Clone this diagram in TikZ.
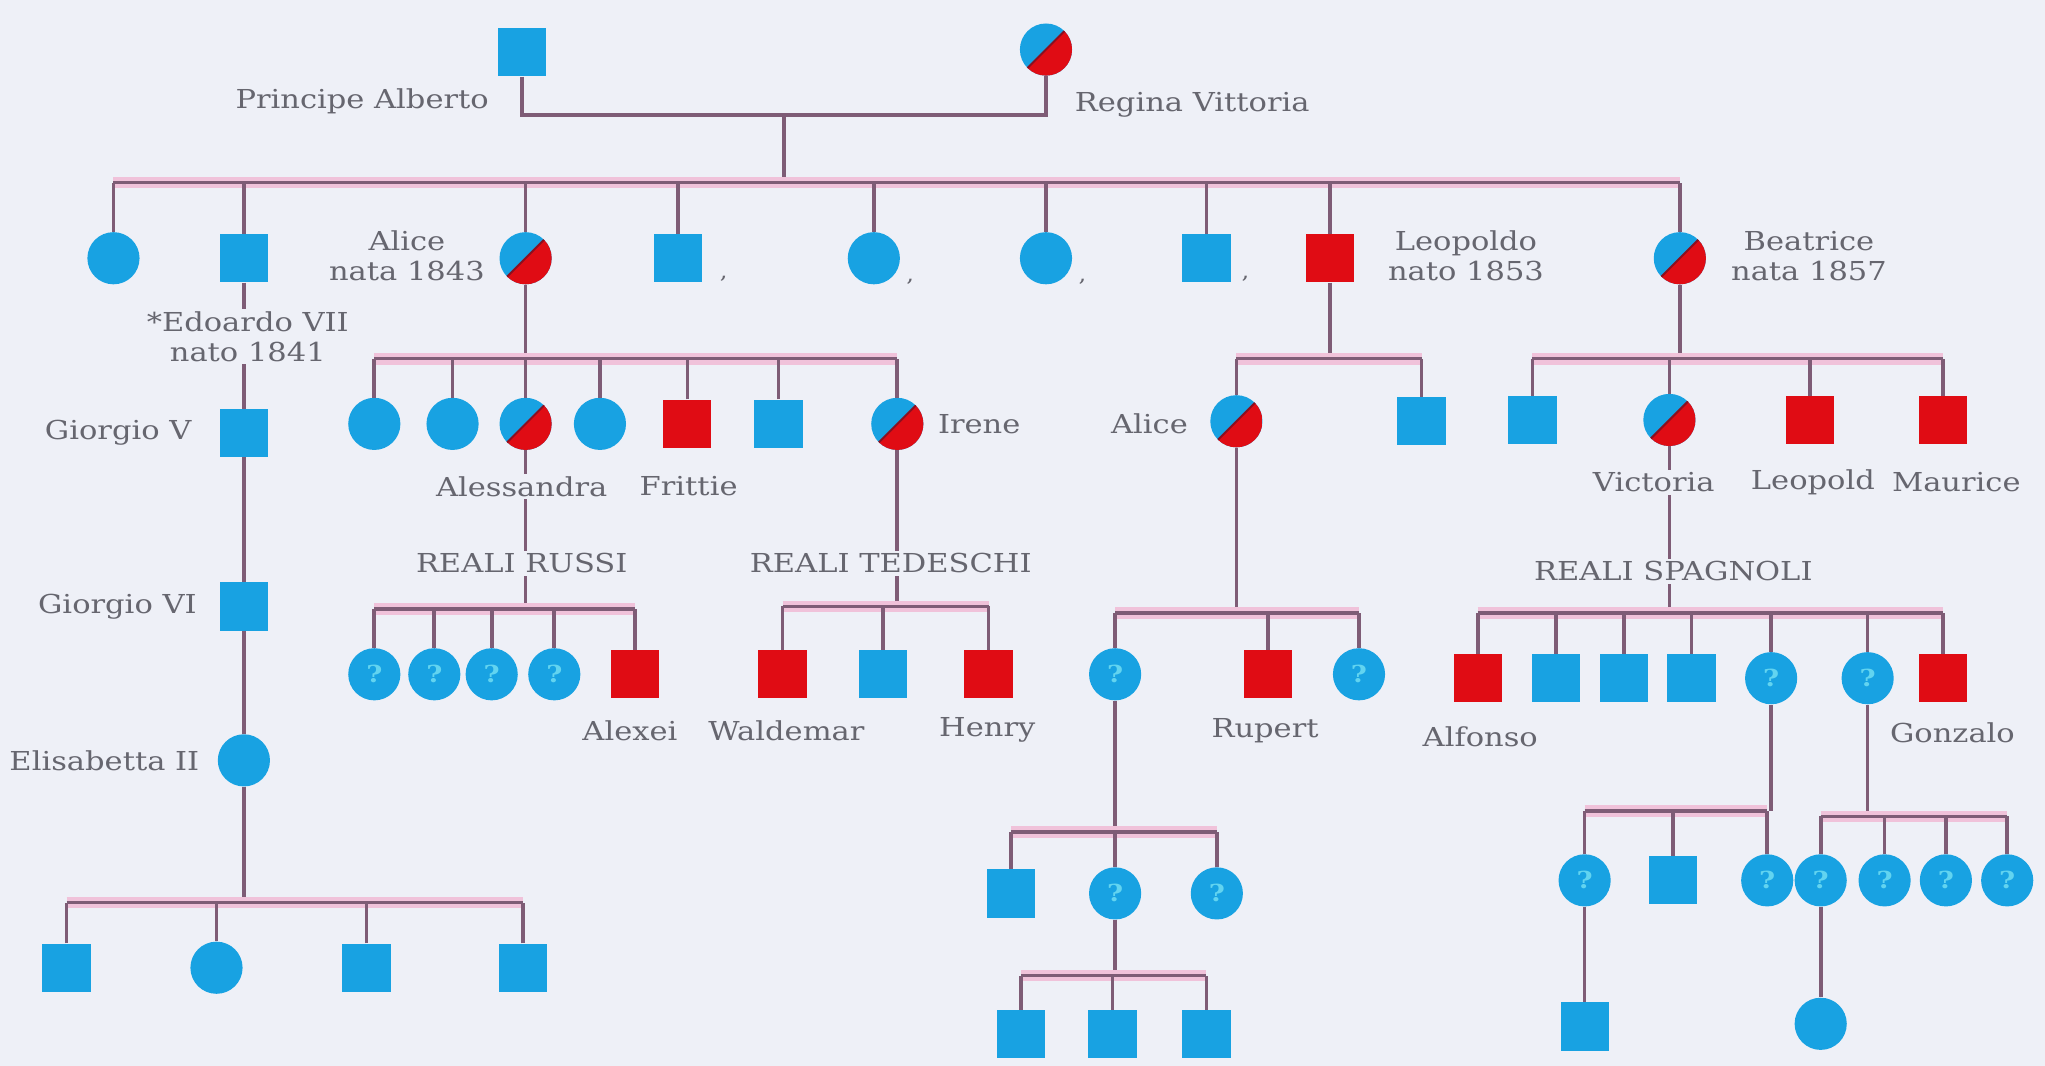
\documentclass[tikz,border=0pt]{standalone}
\usepackage{fontspec}
\setmainfont{DejaVu Serif}[FakeStretch=1.17]
\definecolor{bg}{HTML}{EEF0F7}
\definecolor{blu}{HTML}{18A2E2}
\definecolor{rd}{HTML}{E00C14}
\definecolor{dkr}{HTML}{8A1020}
\definecolor{lc}{HTML}{7E5C76}
\definecolor{halo}{HTML}{F0C2DA}
\definecolor{txt}{HTML}{66666F}
\definecolor{qcol}{HTML}{62D4F0}
\newcommand\sibl[3]{\draw[halo,line width=9pt] (#1.north |- #3) -- (#2.north |- #3);\draw[ln] (#1.north |- #3) -- (#2.north |- #3);}
\newcommand\kdrop[2]{\draw[ln] (#1.north) -- (#1.north |- #2);}
\begin{document}
\begin{tikzpicture}[x=1pt,y=-1pt,
  sqb/.style={rectangle, fill=blu, minimum size=37pt, inner sep=0pt},
  sqr/.style={sqb, fill=rd},
  cib/.style={circle, fill=blu, minimum size=40pt, inner sep=0pt},
  ciq/.style={cib, text=qcol, font=\fontsize{18}{18}\selectfont\bfseries},
  cic/.style={cib, path picture={\fill[rd] (path picture bounding box.north east) -- (path picture bounding box.south east) -- (path picture bounding box.south west) -- cycle; \draw[dkr, line width=1.5pt] (path picture bounding box.north east) -- (path picture bounding box.south west);}},
  ln/.style={draw=lc, line width=2.8pt},
  lab/.style={font=\fontsize{20}{23}\selectfont, text=txt, inner sep=1pt, align=center},
  labf/.style={lab, fill=bg, inner sep=2pt},
  commamark/.style={font=\fontsize{16}{16}\selectfont, text=txt, inner sep=0pt}
]
\fill[bg] (0,0) rectangle (1568,817);
\useasboundingbox (0,0) rectangle (1568,817);

% generation 0
\node[sqb] (alb) at (400,40) {};
\node[cic] (vic) at (802,38) {};
\coordinate (m0) at (601,88);
\coordinate (s0) at (601,140);

% generation 1
\node[cib] (a1) at (87,198) {};
\node[sqb] (edw) at (187,198) {};
\node[cic] (ali) at (403,198) {};
\node[sqb] (a4) at (520,198) {};
\node[cib] (a5) at (670,198) {};
\node[cib] (a6) at (802,198) {};
\node[sqb] (a7) at (925,198) {};
\node[sqr] (leo) at (1020,198) {};
\node[cic] (bea) at (1288,198) {};

% Edward line
\node[sqb] (gv) at (187,332) {};
\node[sqb] (gvi) at (187,465) {};
\node[cib] (eli) at (187,583) {};
\coordinate (se) at (187,692);
\node[sqb] (e1) at (51,742) {};
\node[cib] (e2) at (166,742) {};
\node[sqb] (e3) at (281,742) {};
\node[sqb] (e4) at (401,742) {};

% Alice's children
\coordinate (sa) at (403,275);
\node[cib] (b1) at (287,325) {};
\node[cib] (b2) at (347,325) {};
\node[cic] (ale) at (403,325) {};
\node[cib] (b4) at (460,325) {};
\node[sqr] (fri) at (527,325) {};
\node[sqb] (b6) at (597,325) {};
\node[cic] (ire) at (688,325) {};

% Russian royals
\coordinate (sr) at (403,467);
\node[ciq] (r1) at (287,517) {?};
\node[ciq] (r2) at (333,517) {?};
\node[ciq] (r3) at (377,517) {?};
\node[ciq] (r4) at (425,517) {?};
\node[sqr] (alx) at (487,517) {};

% German royals
\coordinate (st) at (688,465);
\node[sqr] (wal) at (600,517) {};
\node[sqb] (t2) at (677,517) {};
\node[sqr] (hen) at (758,517) {};

% Leopoldo
\coordinate (sl) at (1020,275);
\node[cic] (ali2) at (948,323) {};
\node[sqb] (l2) at (1090,323) {};
\coordinate (sl2) at (948,470);
\node[ciq] (c1) at (855,517) {?};
\node[sqr] (rup) at (972,517) {};
\node[ciq] (c3) at (1042,517) {?};
\coordinate (sc) at (855,638);
\node[sqb] (k1) at (775,685) {};
\node[ciq] (c2) at (855,685) {?};
\node[ciq] (k3) at (933,685) {?};
\coordinate (sc2) at (855,748);
\node[sqb] (n1) at (783,793) {};
\node[sqb] (n2) at (853,793) {};
\node[sqb] (n3) at (925,793) {};

% Beatrice
\coordinate (sb) at (1288,275);
\node[sqb] (bq1) at (1175,322) {};
\node[cic] (vi2) at (1280,322) {};
\node[sqr] (bq3) at (1388,322) {};
\node[sqr] (bq4) at (1490,322) {};
\coordinate (sv) at (1280,470);
\node[sqr] (alf) at (1133,520) {};
\node[sqb] (sp2) at (1193,520) {};
\node[sqb] (sp3) at (1245,520) {};
\node[sqb] (sp4) at (1297,520) {};
\node[ciq] (dd1) at (1358,520) {?};
\node[ciq] (dd2) at (1432,520) {?};
\node[sqr] (gon) at (1490,520) {};
\coordinate (sd1) at (1358,622);
\node[ciq] (f1) at (1215,675) {?};
\node[sqb] (f2) at (1283,675) {};
\node[ciq] (f3) at (1355,675) {?};
\coordinate (sd2) at (1432,626);
\node[ciq] (g1) at (1396,675) {?};
\node[ciq] (g2) at (1445,675) {?};
\node[ciq] (g3) at (1492,675) {?};
\node[ciq] (g4) at (1539,675) {?};
\node[sqb] (h1) at (1215,787) {};
\node[cib] (h2) at (1396,785) {};

% ---- connectors ----
\draw[ln] (alb.south) |- (m0) -| (vic.south);
\draw[ln] (m0) -- (s0);
\sibl{a1}{bea}{s0}
\foreach \k in {a1,edw,ali,a4,a5,a6,a7,leo,bea} {\kdrop{\k}{s0}}

\draw[ln] (edw.south) -- (gv.north);
\draw[ln] (gv.south) -- (gvi.north);
\draw[ln] (gvi.south) -- (eli.north);
\draw[ln] (eli.south) -- (se);
\sibl{e1}{e4}{se}
\foreach \k in {e1,e2,e3,e4} {\kdrop{\k}{se}}

\draw[ln] (ali.south) -- (sa);
\sibl{b1}{ire}{sa}
\foreach \k in {b1,b2,ale,b4,fri,b6,ire} {\kdrop{\k}{sa}}

\draw[ln] (ale.south) -- (sr);
\sibl{r1}{alx}{sr}
\foreach \k in {r1,r2,r3,r4,alx} {\kdrop{\k}{sr}}

\draw[ln] (ire.south) -- (st);
\sibl{wal}{hen}{st}
\foreach \k in {wal,t2,hen} {\kdrop{\k}{st}}

\draw[ln] (leo.south) -- (sl);
\sibl{ali2}{l2}{sl}
\foreach \k in {ali2,l2} {\kdrop{\k}{sl}}
\draw[ln] (ali2.south) -- (sl2);
\sibl{c1}{c3}{sl2}
\foreach \k in {c1,rup,c3} {\kdrop{\k}{sl2}}
\draw[ln] (c1.south) -- (sc);
\sibl{k1}{k3}{sc}
\foreach \k in {k1,c2,k3} {\kdrop{\k}{sc}}
\draw[ln] (c2.south) -- (sc2);
\sibl{n1}{n3}{sc2}
\foreach \k in {n1,n2,n3} {\kdrop{\k}{sc2}}

\draw[ln] (bea.south) -- (sb);
\sibl{bq1}{bq4}{sb}
\foreach \k in {bq1,vi2,bq3,bq4} {\kdrop{\k}{sb}}
\draw[ln] (vi2.south) -- (sv);
\sibl{alf}{gon}{sv}
\foreach \k in {alf,sp2,sp3,sp4,dd1,dd2,gon} {\kdrop{\k}{sv}}
\draw[ln] (dd1.south) -- (sd1);
\sibl{f1}{f3}{sd1}
\foreach \k in {f1,f2,f3} {\kdrop{\k}{sd1}}
\draw[ln] (dd2.south) -- (sd2);
\sibl{g1}{g4}{sd2}
\foreach \k in {g1,g2,g3,g4} {\kdrop{\k}{sd2}}
\draw[ln] (f1.south) -- (h1.north);
\draw[ln] (g1.south) -- (h2.north);

% ---- labels ----
\node[lab, anchor=east] (tAlb) at (376,78) {Principe Alberto};
\node[lab, anchor=west] (tVic) at (823,80) {Regina Vittoria};
\node[lab] (tAli) at (312,196) {Alice\\nata 1843};
\node[labf] (tEdw) at (190,258) {*Edoardo VII\\nato 1841};
\node[lab] (tLeo) at (1124,196) {Leopoldo\\nato 1853};
\node[lab] (tBea) at (1387,196) {Beatrice\\nata 1857};
\node[commamark] (q1) at (555,214) {,};
\node[commamark] (q2) at (698,216) {,};
\node[commamark] (q3) at (830,216) {,};
\node[commamark] (q4) at (955,214) {,};
\node[lab, anchor=east] (tGv) at (148,332) {Giorgio V};
\node[lab, anchor=east] (tGvi) at (152,465) {Giorgio VI};
\node[lab, anchor=east] (tEli) at (154,583) {Elisabetta II};
\node[labf] (tAle) at (400,373) {Alessandra};
\node[lab] (tFri) at (528,373) {Frittie};
\node[lab, anchor=west] (tIre) at (718,325) {Irene};
\node[labf] (tRR) at (400,432) {REALI RUSSI};
\node[lab] (tAlx) at (483,560) {Alexei};
\node[labf] (tRT) at (683,432) {REALI TEDESCHI};
\node[lab] (tWal) at (603,560) {Waldemar};
\node[lab] (tHen) at (757,560) {Henry};
\node[lab, anchor=east] (tAli2) at (912,325) {Alice};
\node[lab] (tRup) at (970,560) {Rupert};
\node[labf] (tVi2) at (1268,370) {Victoria};
\node[lab] (tLp) at (1390,370) {Leopold};
\node[lab] (tMau) at (1500,370) {Maurice};
\node[labf] (tRS) at (1283,438) {REALI SPAGNOLI};
\node[lab] (tAlf) at (1135,565) {Alfonso};
\node[lab] (tGon) at (1497,562) {Gonzalo};
\end{tikzpicture}
\end{document}
